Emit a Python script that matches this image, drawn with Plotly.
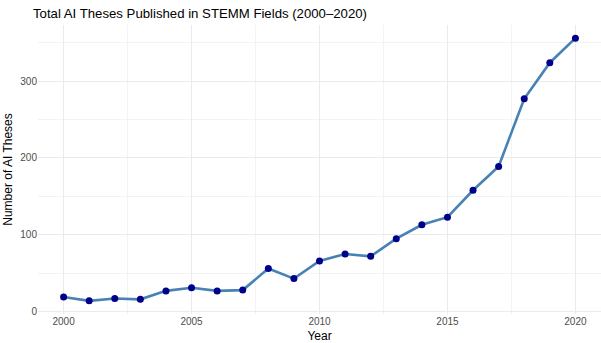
import plotly.graph_objects as go

# Yearly totals of AI theses across STEMM fields
years = list(range(2000, 2021))
theses = [19, 14, 17, 16, 27, 31, 27, 28, 56, 43, 66, 75, 72, 95, 113, 123, 158, 189, 277, 324, 356]

x_ticks = [2000, 2005, 2010, 2015, 2020]
y_ticks = [0, 100, 200, 300]

font_family = "Liberation Sans, Arial, sans-serif"
grid_major = "#EBEBEB"
grid_minor = "#F3F3F3"

fig = go.Figure()
fig.add_trace(go.Scatter(
    x=years, y=theses, mode="lines",
    line=dict(color="#4682B4", width=2.6),
    hoverinfo="skip", showlegend=False,
))
fig.add_trace(go.Scatter(
    x=years, y=theses, mode="markers",
    marker=dict(color="#00008B", size=7),
    showlegend=False,
))

span = max(theses) - min(theses)
pad = 0.05 * span

fig.update_layout(
    width=601, height=343,
    margin=dict(l=38, r=0, t=25, b=29),
    paper_bgcolor="white", plot_bgcolor="white",
    font=dict(family=font_family, color="#000000"),
    title=dict(
        text="Total AI Theses Published in STEMM Fields (2000\u20132020)",
        x=33 / 601, xanchor="left", xref="container",
        y=1 - 13 / 343, yanchor="middle", yref="container",
        font=dict(size=13.2, color="#000000"),
    ),
    xaxis=dict(
        range=[years[0] - 1, years[-1] + 1],
        tickvals=x_ticks, ticktext=[str(v) for v in x_ticks],
        tickfont=dict(size=10, color="#4D4D4D"),
        showgrid=True, gridcolor=grid_major, gridwidth=1.1,
        minor=dict(dtick=2.5, tick0=2002.5, showgrid=True, gridcolor=grid_minor, gridwidth=0.6),
        zeroline=False, showline=False, ticks="", ticklen=0,
        title=dict(text="Year", font=dict(size=12), standoff=5),
        automargin=False,
    ),
    yaxis=dict(
        range=[min(theses) - pad, max(theses) + pad],
        tickvals=y_ticks, ticktext=[str(v) for v in y_ticks],
        tickfont=dict(size=10, color="#4D4D4D"),
        showgrid=True, gridcolor=grid_major, gridwidth=1.1,
        minor=dict(dtick=50, tick0=50, showgrid=True, gridcolor=grid_minor, gridwidth=0.6),
        zeroline=False, showline=False, ticks="", ticklen=0,
        title=dict(text="Number of AI Theses", font=dict(size=12), standoff=5),
        automargin=False,
    ),
)

fig.write_html("out.html")
